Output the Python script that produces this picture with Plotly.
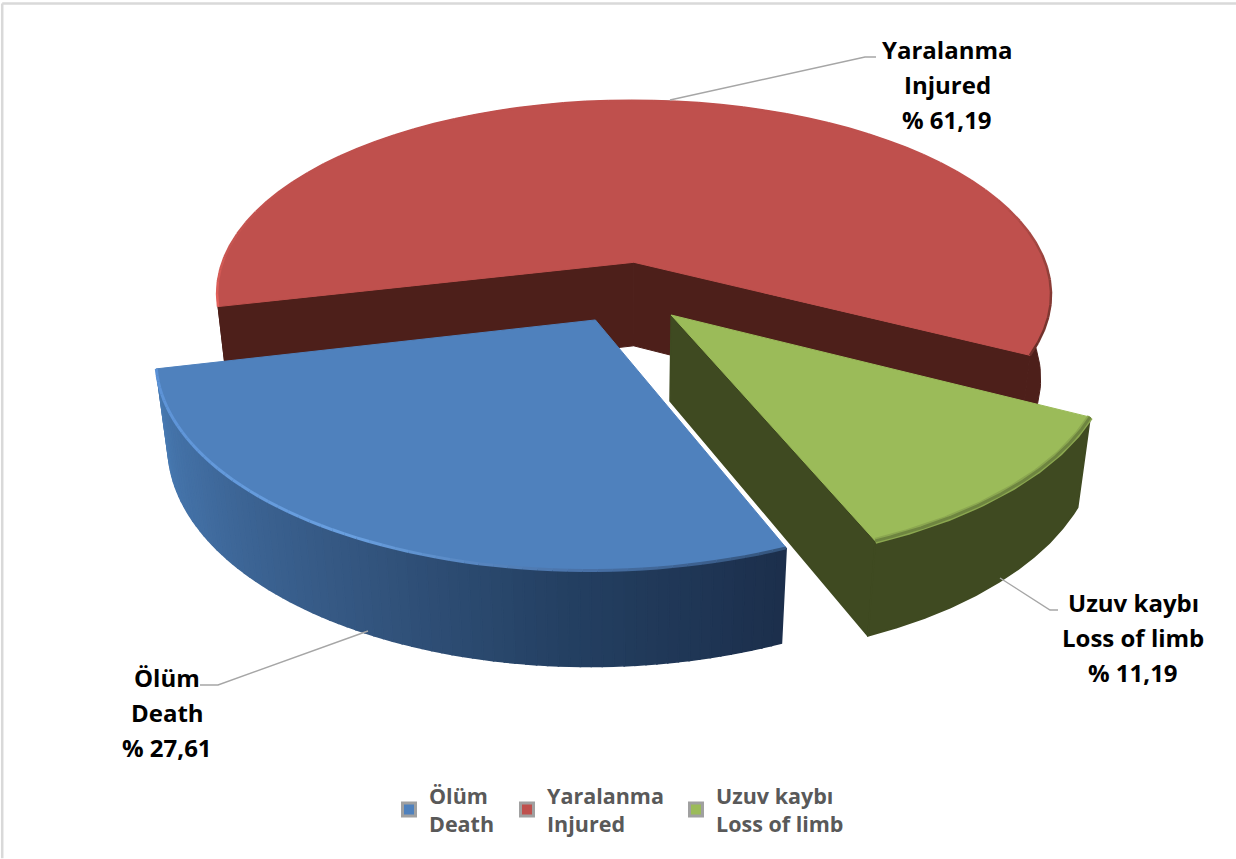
import math
import plotly.graph_objects as go

# ---- data ----
names_tr = ["Ölüm", "Yaralanma", "Uzuv kaybı"]
names_en = ["Death", "Injured", "Loss of limb"]
values = [27.61, 61.19, 11.19]
value_labels = ["% 27,61", "% 61,19", "% 11,19"]

# ---- style / camera ----
top_cols = ["#4F81BD", "#BF504D", "#9BBB59"]
side_cols = ["#2F4B73", "#4D1F1A", "#3F4A21"]
FIRST_ANGLE = 157.5
EXPLODE = 0.155
OX, OY, A, B, C, K, M = 626, 292, 422, 198, 87, 0.168, 0.025
FONT = "Open Sans"


def proj(X, Y, Z=0.0):
    w = 1 + K * Y - M * Z
    return OX + A * X / w, OY - (B * Y + C * Z) / w


total = sum(values)
spans = []
a = FIRST_ANGLE
for v in values:
    sp = v / total * 360
    spans.append((a, a + sp))
    a += sp


def apex(i):
    mid = math.radians(sum(spans[i]) / 2)
    return EXPLODE * math.sin(mid), EXPLODE * math.cos(mid)


def rim(i, Z=0.0, n=160, t0=0.0, t1=1.0):
    s, e = spans[i]
    ax, ay = apex(i)
    pts = []
    for j in range(n + 1):
        t = math.radians(s + (e - s) * (t0 + (t1 - t0) * j / n))
        pts.append(proj(ax + math.sin(t), ay + math.cos(t), Z))
    return pts


fig = go.Figure()


def poly(pts, color, lw=1.0):
    fig.add_trace(go.Scatter(
        x=[p[0] for p in pts] + [pts[0][0]], y=[p[1] for p in pts] + [pts[0][1]],
        mode="lines", fill="toself", fillcolor=color, line=dict(color=color, width=lw),
        hoverinfo="skip", showlegend=False))


def seg(pts, color, width):
    fig.add_trace(go.Scatter(
        x=[p[0] for p in pts], y=[p[1] for p in pts], mode="lines",
        line=dict(color=color, width=width), hoverinfo="skip", showlegend=False))


def mix(stops, t):
    rgb = stops[-1][1]
    for (t0, c0), (t1, c1) in zip(stops, stops[1:]):
        if t <= t1:
            f = (t - t0) / (t1 - t0)
            rgb = tuple(c0[q] + (c1[q] - c0[q]) * f for q in range(3))
            break
    return "rgb(%d,%d,%d)" % tuple(rgb)


def wall(p_from, p_to):
    return [proj(*p_from, 0), proj(*p_to, 0), proj(*p_to, -1), proj(*p_from, -1)]


def rim_world(i, ang):
    ax, ay = apex(i)
    t = math.radians(ang)
    return ax + math.sin(t), ay + math.cos(t)


# ---- red slice (back) ----
r = 1
poly(rim(r) + rim(r, -1)[::-1], side_cols[r])
poly(wall(apex(r), rim_world(r, spans[r][0])), side_cols[r])
poly(wall(apex(r), rim_world(r, spans[r][1])), side_cols[r])
poly([proj(*apex(r))] + rim(r), top_cols[r])
n = 60
red_stops = [(0, (228, 98, 92)), (0.08, (200, 86, 82)), (0.2, (191, 80, 77)),
             (0.78, (191, 80, 77)), (0.88, (150, 66, 60)), (1, (104, 46, 40))]
for j in range(n):
    t0, t1 = j / n, (j + 1) / n
    seg(rim(r, 0, 4, t0, t1), mix(red_stops, (t0 + t1) / 2), 2.5)

# ---- blue slice ----
b = 0
pts_top = rim(b, 0, 80)
pts_bot = rim(b, -1, 80)
blue_stops = [(0, (28, 47, 76)), (0.25, (36, 64, 98)), (0.5, (52, 86, 128)),
              (0.8, (66, 110, 162)), (1, (72, 122, 178))]
for j in range(80):
    col = mix(blue_stops, (j + 0.5) / 80)
    poly([pts_top[j], pts_top[j + 1], pts_bot[j + 1], pts_bot[j]], col, 1.6)
poly([proj(*apex(b))] + rim(b), top_cols[b])
for j in range(60):
    t0, t1 = j / 60, (j + 1) / 60
    tm = (t0 + t1) / 2
    col = mix([(0, (52, 84, 124)), (0.22, (72, 112, 165)), (0.5, (106, 160, 224)),
               (1, (92, 146, 214))], tm)
    seg(rim(b, 0, 4, t0, t1), col, 3)

# ---- green slice ----
g = 2
poly(wall(apex(g), rim_world(g, spans[g][1])), side_cols[g], 1.6)
poly(rim(g) + rim(g, -1)[::-1], side_cols[g], 1.6)
poly([proj(*apex(g))] + rim(g), top_cols[g])
seg(rim(g), "#8BA750", 6)
seg(rim(g), "#6E8540", 3)

# ---- leader lines ----
leaders = {
    1: [(670, 100), (865, 57), (876, 57)],
    2: [(1000, 578), (1050, 610), (1058, 610)],
    0: [(368, 631), (218, 685), (200, 685)],
}
for pts in leaders.values():
    fig.add_trace(go.Scatter(x=[p[0] for p in pts], y=[p[1] for p in pts], mode="lines",
                             line=dict(color="#A6A6A6", width=1.4), hoverinfo="skip", showlegend=False))

# ---- data labels ----
label_pos = {1: (947, 49), 2: (1133, 602), 0: (167, 677)}
annos = []
for i, (cx, y0) in label_pos.items():
    for k, line in enumerate([names_tr[i], names_en[i], value_labels[i]]):
        annos.append(dict(x=cx, y=y0 + k * 35, xref="x", yref="y", text="<b>%s</b>" % line,
                          showarrow=False, xanchor="center", yanchor="middle",
                          font=dict(family=FONT, size=24, color="#000000")))

# ---- legend (one legend box per entry, so each can sit where the reference has it) ----
legend_x = [389, 507, 676]
legend_ids = ["legend", "legend2", "legend3"]
for i in range(3):
    fig.add_trace(go.Scatter(
        x=[None], y=[None], mode="markers", legend=legend_ids[i],
        name="<b>%s</b><br><b>%s</b>" % (names_tr[i], names_en[i]),
        marker=dict(symbol="square", size=13, color=top_cols[i], line=dict(color="#A0A0A0", width=3))))

legend_layout = {
    legend_ids[i]: dict(x=legend_x[i] / 1236, y=1 - 775 / 859, xanchor="left", yanchor="top",
                        font=dict(family=FONT, size=21.5, color="#595959"),
                        itemwidth=30, bgcolor="rgba(0,0,0,0)")
    for i in range(3)
}

frame = dict(color="#D9D9D9", width=2.5)
fig.update_layout(
    width=1236, height=859, margin=dict(l=0, r=0, t=0, b=0),
    paper_bgcolor="white", plot_bgcolor="white",
    xaxis=dict(range=[0, 1236], visible=False, fixedrange=True),
    yaxis=dict(range=[859, 0], visible=False, fixedrange=True),
    annotations=annos,
    shapes=[
        dict(type="line", xref="paper", yref="paper", x0=0.0018, x1=1, y0=0.996, y1=0.996, line=frame),
        dict(type="line", xref="paper", yref="paper", x0=0.0018, x1=0.0018, y0=0.001, y1=0.996, line=frame),
    ],
    **legend_layout,
)
fig.write_html("out.html", config=dict(displayModeBar=False),
               post_script="document.body.style.margin='0';document.documentElement.style.overflow='hidden';")
